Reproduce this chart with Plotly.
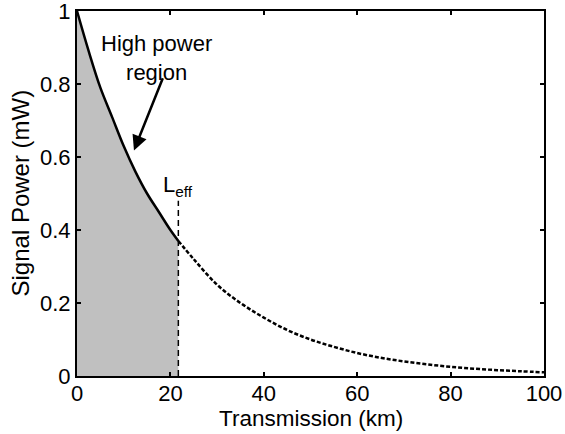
import plotly.graph_objects as go

# Data
dist_km = [0, 2.5, 5, 7.5, 10, 12.5, 15, 17.5, 20, 21.7, 25, 30, 35, 40, 45, 50,
           55, 60, 65, 70, 75, 80, 85, 90, 95, 100]
power_mw = [1.0, 0.89, 0.79, 0.71, 0.63, 0.56, 0.50, 0.45, 0.40, 0.37, 0.32, 0.25,
            0.20, 0.16, 0.126, 0.10, 0.08, 0.063, 0.05, 0.04, 0.032, 0.025, 0.02,
            0.016, 0.013, 0.01]
L_eff = 21.7
L_eff_line_top = 0.48
x_ticks = [0, 20, 40, 60, 80, 100]
y_ticks = [0, 0.2, 0.4, 0.6, 0.8, 1]
y_tick_text = ["0", "0.2", "0.4", "0.6", "0.8", "1"]

near_x = [x for x in dist_km if x <= L_eff]
near_y = [y for x, y in zip(dist_km, power_mw) if x <= L_eff]
far_x = [x for x in dist_km if x >= L_eff]
far_y = [y for x, y in zip(dist_km, power_mw) if x >= L_eff]

FONT = "Liberation Sans, Arial, sans-serif"

fig = go.Figure()
fig.add_trace(go.Scatter(x=near_x, y=near_y, mode="lines", line=dict(width=0, shape="spline"),
                         fill="tozeroy", fillcolor="#c0c0c0", hoverinfo="skip", showlegend=False))
fig.add_trace(go.Scatter(x=near_x, y=near_y, mode="lines",
                         line=dict(color="black", width=2.5, shape="spline"), showlegend=False))
fig.add_trace(go.Scatter(x=far_x, y=far_y, mode="lines",
                         line=dict(color="black", width=2.5, dash="4px,2px", shape="spline"),
                         showlegend=False))
fig.add_trace(go.Scatter(x=[L_eff, L_eff], y=[0, L_eff_line_top], mode="lines",
                         line=dict(color="black", width=1.5, dash="6px,4px"), showlegend=False))

fig.add_annotation(x=L_eff, y=0.52, text="L<sub>eff</sub>", showarrow=False,
                   font=dict(family=FONT, size=22, color="black"), xanchor="center")
fig.add_annotation(x=17, y=0.87, text="High power<br>region", showarrow=False,
                   font=dict(family=FONT, size=22, color="black"), align="center")
fig.add_annotation(x=12.2, y=0.618, ax=18.5, ay=0.82, xref="x", yref="y", axref="x", ayref="y",
                   text="", showarrow=True, arrowhead=2, arrowsize=1.2, arrowwidth=2.5,
                   arrowcolor="black")
# axis titles
fig.add_annotation(x=0.5, y=0, xref="paper", yref="paper", yshift=-42, yanchor="middle",
                   text="Transmission (km)", showarrow=False,
                   font=dict(family=FONT, size=22.5, color="black"))
fig.add_annotation(x=0, y=0.5, xref="paper", yref="paper", xshift=-57, xanchor="center",
                   text="Signal Power (mW)", showarrow=False, textangle=-90,
                   font=dict(family=FONT, size=24, color="black"))

axis_common = dict(showline=True, linecolor="black", linewidth=2, mirror="ticks",
                   ticks="inside", ticklen=4, tickwidth=1.5, tickcolor="black",
                   showgrid=False, zeroline=False, automargin=False,
                   ticklabeloverflow="allow",
                   tickfont=dict(family=FONT, size=22, color="black"))
fig.update_xaxes(range=[0, 100], tickvals=x_ticks, ticklabelstandoff=-3, **axis_common)
fig.update_yaxes(range=[0, 1], tickvals=y_ticks, ticktext=y_tick_text, **axis_common)

fig.update_layout(width=565, height=434, margin=dict(l=77, r=21, t=11, b=58),
                  plot_bgcolor="white", paper_bgcolor="white")
fig.write_html("out.html")
